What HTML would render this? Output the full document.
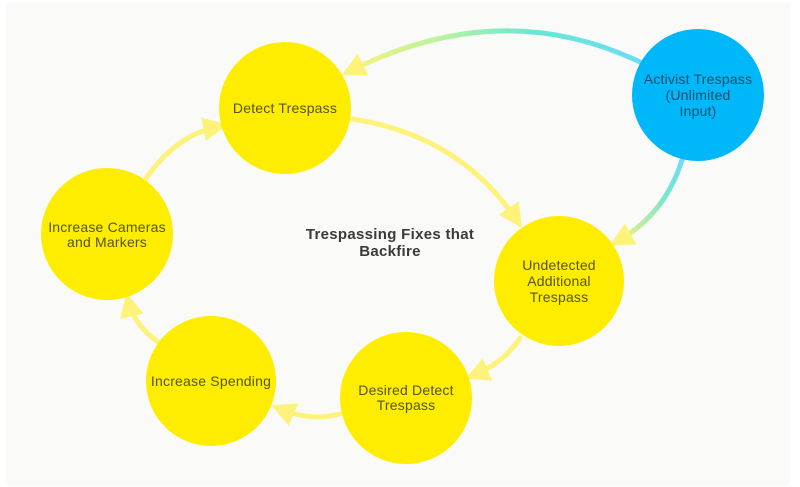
<!DOCTYPE html>
<html><head><style>
html,body{margin:0;padding:0;background:#fff;}
svg{display:block;}
text{font-family:"Liberation Sans",sans-serif;}
</style></head><body>
<svg width="800" height="487" viewBox="0 0 800 487" xmlns="http://www.w3.org/2000/svg">
<defs>
<marker id="ah" viewBox="0 0 10 10" refX="7" refY="5" markerWidth="4.8" markerHeight="4.8" orient="auto" markerUnits="strokeWidth">
<path d="M0,0 L10,5 L0,10 Z" fill="#fdf37a"/>
</marker>
<linearGradient id="g1" gradientUnits="userSpaceOnUse" x1="640" y1="62" x2="345" y2="73">
<stop offset="0" stop-color="#6fdcf5"/><stop offset="0.35" stop-color="#66e8d4"/><stop offset="0.65" stop-color="#b5f2a0"/><stop offset="1" stop-color="#fdf37a"/>
</linearGradient>
<linearGradient id="g2" gradientUnits="userSpaceOnUse" x1="682" y1="160" x2="614" y2="244">
<stop offset="0" stop-color="#6fdcf5"/><stop offset="0.4" stop-color="#7ce8c8"/><stop offset="1" stop-color="#fdf37a"/>
</linearGradient>
</defs>
<rect x="6" y="3" width="784" height="483" fill="#fafaf8"/>
<g fill="none" stroke-width="5" stroke-linecap="round">
<path d="M640,62 Q500,-5 348,72" stroke="url(#g1)" marker-end="url(#ah)"/>
<path d="M682,160 Q665,215 616,242" stroke="url(#g2)" marker-end="url(#ah)"/>
<path d="M352,119 Q460,135 518,222" stroke="#fdf37a" marker-end="url(#ah)"/>
<path d="M520,338 Q505,362 472,376" stroke="#fdf37a" marker-end="url(#ah)"/>
<path d="M340,414 Q310,422 278,408" stroke="#fdf37a" marker-end="url(#ah)"/>
<path d="M158,342 Q134,325 128,300" stroke="#fdf37a" marker-end="url(#ah)"/>
<path d="M145,180 Q175,135 220,126" stroke="#fdf37a" marker-end="url(#ah)"/>
</g>
<g fill="#ffed00">
<circle cx="285" cy="108" r="66"/>
<circle cx="107" cy="234" r="66"/>
<circle cx="211" cy="381" r="65"/>
<circle cx="406" cy="398" r="66"/>
<circle cx="559" cy="281" r="65"/>
</g>
<circle cx="698" cy="95" r="66" fill="#00b7fa"/>
<g font-size="14" fill="#55550a" text-anchor="middle" letter-spacing="0.2">
<text x="285" y="113">Detect Trespass</text>
<text x="107" y="232">Increase Cameras</text>
<text x="107" y="247">and Markers</text>
<text x="211" y="386">Increase Spending</text>
<text x="406" y="395">Desired Detect</text>
<text x="406" y="410">Trespass</text>
<text x="559" y="270">Undetected</text>
<text x="559" y="286">Additional</text>
<text x="559" y="302">Trespass</text>
</g>
<g font-size="14" fill="#124e6e" text-anchor="middle" letter-spacing="0.2">
<text x="698" y="84">Activist Trespass</text>
<text x="698" y="100">(Unlimited</text>
<text x="698" y="116">Input)</text>
</g>
<g font-size="15" font-weight="bold" fill="#3a3a3a" text-anchor="middle" letter-spacing="0.3">
<text x="390" y="239">Trespassing Fixes that</text>
<text x="390" y="256">Backfire</text>
</g>
</svg>
</body></html>
